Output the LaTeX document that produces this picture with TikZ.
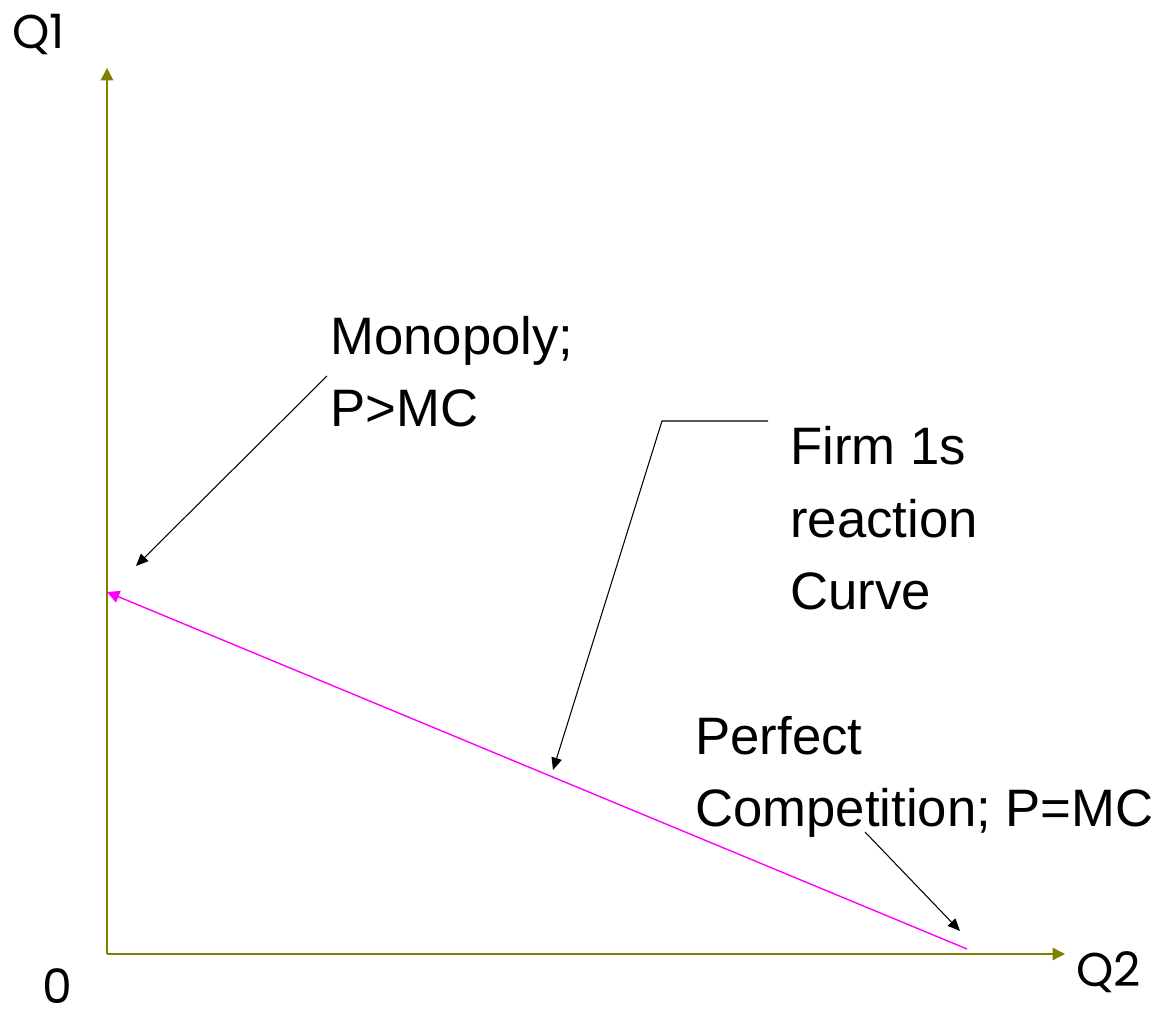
\documentclass[tikz,border=0pt]{standalone}
\usepackage{fontspec}
\setmainfont{Liberation Sans}
\newfontfamily\axisfont{Poppins}
\usetikzlibrary{arrows.meta}
\definecolor{Olive}{HTML}{808000}
\definecolor{Pink}{HTML}{FF00FF}

\begin{document}
\begin{tikzpicture}[x=0.02cm,y=0.02cm,
    axis/.style={draw=Olive,line width=0.8pt,-{Triangle[length=7pt,width=7pt]}},
    callout/.style={draw=black,line width=0.6pt,-{Triangle[length=7pt,width=6pt]}},
    lbl/.style={anchor=base west,inner sep=0pt,align=left,
      font=\fontsize{30}{41.5}\selectfont},
    axlbl/.style={anchor=base west,inner sep=0pt,
      font=\axisfont\fontsize{27}{30}\selectfont}]
        \useasboundingbox (0,0) rectangle (1171,1014);

        % axes
        \coordinate (O) at (107,60);
        \coordinate (ytop) at (107,946);
        \coordinate (xend) at (1065,60);
        \draw[axis] (O)--(ytop);
        \draw[axis] (O)--(xend);
        \node[axlbl] (q1) at (12,965) {Q1};
        \node[axlbl] (q2) at (1076,27) {Q2};
        \node[axlbl] (zero) at (42,10) {0};

        % reaction curve
        \coordinate (mono) at (107,422);
        \coordinate (comp) at (967,65);
        \draw[Pink,line width=0.8pt,-{Triangle[length=7pt,width=7pt]}]
          (comp)--(mono);

        % labels (base = last line)
        \node[lbl] (monolab) at (330,587) {Monopoly;\\P>MC};
        \node[lbl] (firmlab) at (790,404) {Firm 1s\\reaction\\Curve};
        \node[lbl] (perflab) at (695,187) {Perfect\\Competition; P=MC};

        % callouts
        \coordinate (m0) at (327,638);
        \coordinate (m1) at (136,448);
        \draw[callout] (m0)--(m1);
        \coordinate (f0) at (768,593);
        \coordinate (f1) at (662,593);
        \coordinate (f2) at (553,244);
        \draw[callout] (f0)--(f1)--(f2);
        \coordinate (p0) at (865,182);
        \coordinate (p1) at (960,83);
        \draw[callout] (p0)--(p1);
      \end{tikzpicture}
\end{document}
